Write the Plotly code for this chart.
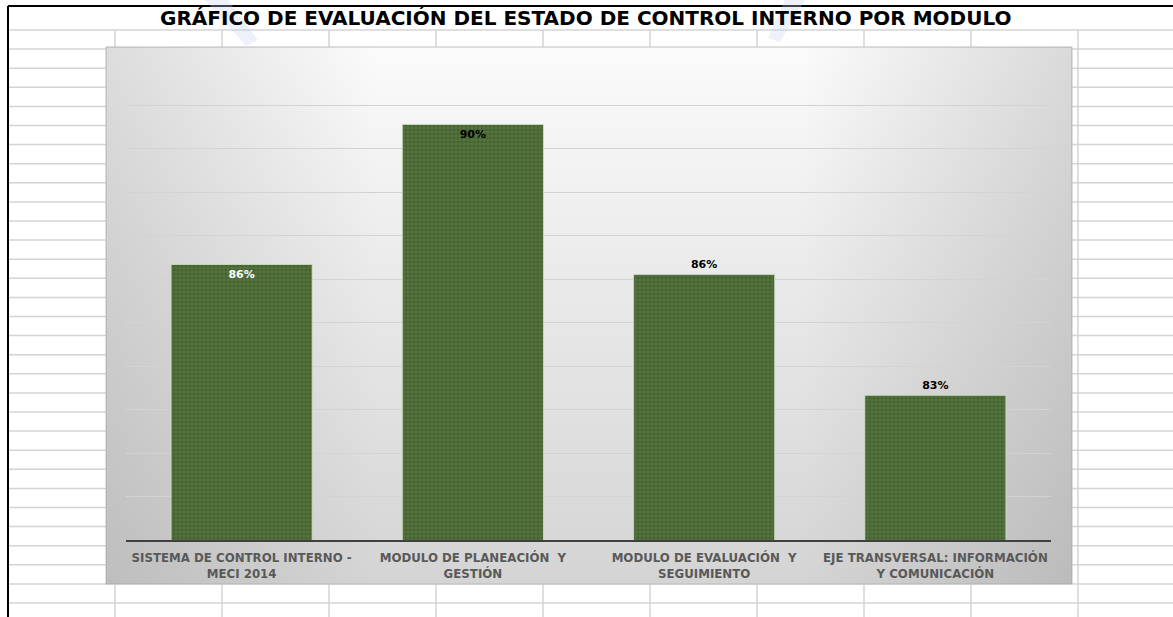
import plotly.graph_objects as go

# ---- data ----
categories = [
    "SISTEMA DE CONTROL INTERNO -<br>MECI 2014",
    "MODULO DE PLANEACIÓN  Y<br>GESTIÓN",
    "MODULO DE EVALUACIÓN  Y<br>SEGUIMIENTO",
    "EJE TRANSVERSAL: INFORMACIÓN<br>Y COMUNICACIÓN",
]
values = [0.8634, 0.8956, 0.8611, 0.8333]
label_positions = ["inside", "inside", "outside", "outside"]
label_colors = ["white", "black", "black", "black"]
title_text = "GRÁFICO DE EVALUACIÓN DEL ESTADO DE CONTROL INTERNO POR MODULO"

W, H = 1173, 617
FONT = "DejaVu Sans"

fig = go.Figure()

# chart area (gradient box) drawn on a full-page pixel axis
box_x = [106, 1072, 1072, 106, 106]
box_y = [47, 47, 584, 584, 47]
fig.add_trace(go.Scatter(
    x=box_x, y=box_y, mode="lines", fill="toself",
    line=dict(color="#bdbdbd", width=1),
    fillgradient=dict(type="vertical", start=47, stop=584,
                      colorscale=[[0, "#fbfbfb"], [0.35, "#ededed"], [1, "#d4d4d4"]]),
    hoverinfo="skip", showlegend=False, xaxis="x", yaxis="y",
))
fig.add_trace(go.Scatter(
    x=box_x, y=box_y, mode="lines", fill="toself",
    line=dict(color="rgba(0,0,0,0)", width=0),
    fillgradient=dict(type="horizontal", start=106, stop=1072,
                      colorscale=[[0, "rgba(100,100,100,0.2)"], [0.28, "rgba(100,100,100,0.0)"],
                                  [0.72, "rgba(100,100,100,0.0)"], [1, "rgba(100,100,100,0.22)"]]),
    hoverinfo="skip", showlegend=False, xaxis="x", yaxis="y",
))

# bars
fig.add_trace(go.Bar(
    x=categories, y=values, xaxis="x2", yaxis="y2",
    width=0.61,
    marker=dict(
        color="#46662f",
        line=dict(color="rgba(205,225,195,0.8)", width=1),
        pattern=dict(shape="+", fgcolor="#718f5e", bgcolor="#44632e", size=4, solidity=0.4),
    ),
    texttemplate="<b>%{y:.0%}</b>",
    textposition=label_positions,
    insidetextanchor="end",
    textfont=dict(family=FONT, size=11, color=label_colors),
    outsidetextfont=dict(family=FONT, size=11, color="black"),
    cliponaxis=False,
    showlegend=False,
))

# spreadsheet grid (background)
shapes = []
y = 30.0
while y < H:
    shapes.append(dict(type="line", xref="x", yref="y", x0=8, x1=W, y0=y, y1=y,
                       line=dict(color="#d4d4d4", width=1.5), layer="below"))
    y += 19.1
for k in range(10):
    cx = 115 + 107 * k
    shapes.append(dict(type="line", xref="x", yref="y", x0=cx, x1=cx, y0=30, y1=H,
                       line=dict(color="#d4d4d4", width=1.5), layer="below"))
shapes.append(dict(type="line", xref="x", yref="y", x0=8, x1=W, y0=6, y1=6,
                   line=dict(color="black", width=2), layer="below"))
shapes.append(dict(type="line", xref="x", yref="y", x0=8, x1=8, y0=6, y1=H,
                   line=dict(color="black", width=2), layer="below"))
# faint watermark
shapes.append(dict(type="path", xref="x", yref="y",
                   path="M 205 0 L 228 0 L 258 40 L 246 46 Z",
                   fillcolor="rgba(195,208,235,0.3)", line=dict(width=0), layer="below"))
shapes.append(dict(type="path", xref="x", yref="y",
                   path="M 785 0 L 805 0 L 780 42 L 768 38 Z",
                   fillcolor="rgba(195,208,235,0.3)", line=dict(width=0), layer="below"))

fig.update_layout(
    width=W, height=H,
    margin=dict(l=0, r=0, t=0, b=0),
    paper_bgcolor="white",
    plot_bgcolor="rgba(0,0,0,0)",
    shapes=shapes,
    xaxis=dict(domain=[0, 1], range=[0, W], visible=False, fixedrange=True),
    yaxis=dict(domain=[0, 1], range=[H, 0], visible=False, fixedrange=True),
    xaxis2=dict(domain=[126 / W, 1051 / W], anchor="y2",
                showline=True, linecolor="#404040", linewidth=2,
                showgrid=False, ticks="", ticklabelstandoff=6,
                tickfont=dict(family=FONT, size=11.8, color="#595959", weight="bold")),
    yaxis2=dict(domain=[(H - 540) / H, (H - 62) / H], anchor="x2",
                range=[0.80, 0.91], dtick=0.01, showticklabels=False,
                showgrid=True, gridcolor="#d3d3d3", gridwidth=1,
                zeroline=False, showline=False, ticks=""),
    bargap=0.39,
    font=dict(family=FONT),
    annotations=[dict(
        text=f"<b>{title_text}</b>", x=585, y=18, xref="x", yref="y",
        showarrow=False, xanchor="center", yanchor="middle",
        font=dict(family=FONT, size=20, color="black"),
    )],
)

fig.write_html("out.html", config={"displayModeBar": False},
               post_script="document.body.style.margin='0px';document.body.style.overflow='hidden';")
